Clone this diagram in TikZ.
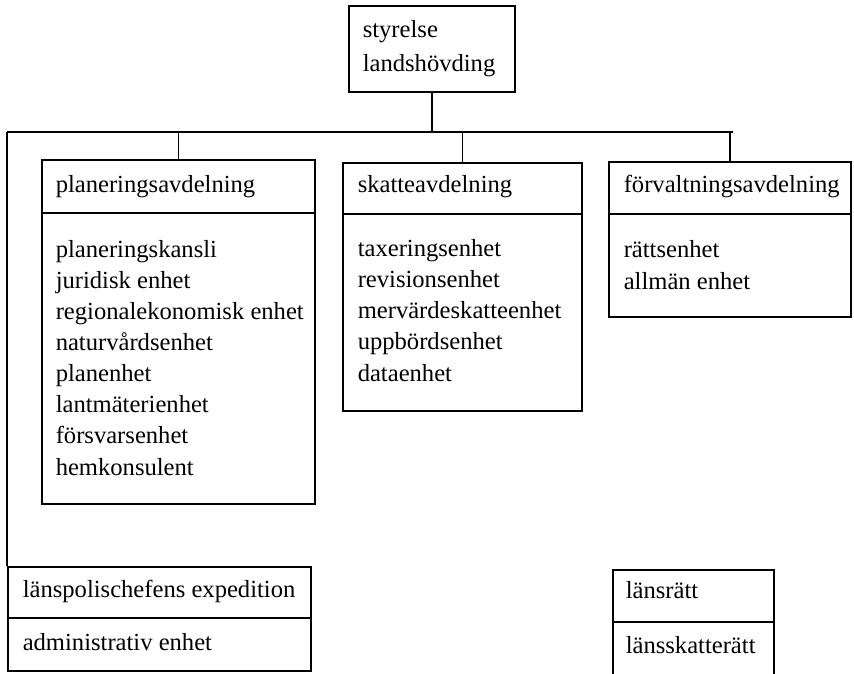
\documentclass[tikz,border=0pt]{standalone}
\usepackage{fontspec}
\setmainfont{Liberation Serif}
\usetikzlibrary{positioning, calc}
\tikzset{
  every picture/.style={line width=1.3pt},
  frame/.style={draw, inner sep=0pt, anchor=north west},
  head/.style={anchor=base west, inner sep=0pt, font=\fontsize{21}{26.5}\selectfont},
  % multi-line: placed at the baseline of the last line
  items/.style={anchor=base west, inner sep=0pt, align=left, font=\fontsize{21}{26.5}\selectfont},
  link/.style={draw, line width=1.3pt},
}

\begin{document}
\begin{tikzpicture}[x=0.03cm, y=-0.03cm]
  \useasboundingbox (0,0) rectangle (854,674);
  % top
  \node[frame, minimum width=4.98cm, minimum height=2.58cm] (top) at (348,5) {};
  \node[items] (toptext) at (362,72) {styrelse\\[0.09cm]landshövding};
  % departments
  \node[frame, minimum width=8.19cm, minimum height=10.32cm] (plan) at (41,159) {};
  \node[head] (planhead) at (55,193) {planeringsavdelning};
  \draw (plan.west |- 0,213) -- (plan.east |- 0,213);
  \node[items] (planlist) at (55,475) {planeringskansli\\juridisk enhet\\regionalekonomisk enhet\\naturvårdsenhet\\planenhet\\lantmäterienhet\\försvarsenhet\\hemkonsulent};
  \node[frame, minimum width=7.17cm, minimum height=7.44cm] (skatt) at (342,162) {};
  \node[head] (skatthead) at (357,193) {skatteavdelning};
  \draw (skatt.west |- 0,214) -- (skatt.east |- 0,214);
  \node[items] (skattlist) at (357,381) {taxeringsenhet\\revisionsenhet\\mervärdeskatteenhet\\uppbördsenhet\\dataenhet};
  \node[frame, minimum width=7.26cm, minimum height=4.65cm] (forv) at (608,161) {};
  \node[head] (forvhead) at (623,193) {förvaltningsavdelning};
  \draw (forv.west |- 0,214) -- (forv.east |- 0,214);
  \node[items] (forvlist) at (623,289) {rättsenhet\\allmän enhet};
  % bottom row
  \node[frame, minimum width=9.09cm, minimum height=3.12cm] (polis) at (7,566) {};
  \node[head] (polishead) at (22,597) {länspolischefens expedition};
  \draw (polis.west |- 0,618) -- (polis.east |- 0,618);
  \node[head] (polisunit) at (22,650) {administrativ enhet};
  \node[frame, minimum width=4.83cm, minimum height=3.45cm] (ratt) at (612,569) {};
  \node[head] (ratthead) at (625,598) {länsrätt};
  \draw (ratt.west |- 0,622) -- (ratt.east |- 0,622);
  \node[head] (rattunit) at (625,653) {länsskatterätt};
  % connectors
  \coordinate (busl) at (7,132);
  \coordinate (busr) at (733,132);
  \draw[link] (busl) -- (busr);
  \draw[link] (top.south) -- (top.south |- busl);
  \draw[link] (plan.north |- busl) -- (plan.north);
  \draw[link] (skatt.north |- busl) -- (skatt.north);
  \draw[link] (forv.north |- busl) -- (forv.north);
  \draw[link] (busl) -- (polis.north west);
\end{tikzpicture}
\end{document}
